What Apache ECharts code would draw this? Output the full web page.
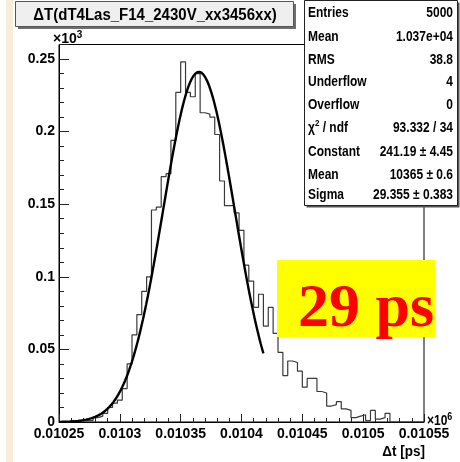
<!DOCTYPE html>
<html>
<head>
<meta charset="utf-8">
<script src="https://cdn.jsdelivr.net/npm/echarts@6/dist/echarts.min.js"></script>
<style>
  html, body { margin: 0; padding: 0; background: #ffffff; }
  #chart { width: 460px; height: 462px; }
</style>
</head>
<body>
<div id="chart"></div>
<script>
// Histogram of the time difference, 75 bins of 4 ps starting at 10250 ps
const binLow = 10250;
const binWidth = 4;
const counts = [
  0, 0, 1, 0, 1, 1, 1, 3, 4, 6,
  10, 13, 15, 23, 40, 60, 74, 90, 100, 146,
  148, 169, 171, 194, 227, 248, 227, 224, 240, 213,
  212, 210, 198, 166, 149, 149, 144, 132, 108, 97,
  79, 88, 66, 79, 61, 48, 32, 42, 41, 35,
  24, 30, 30, 21, 20, 11, 12, 14, 9, 8,
  3, 4, 5, 1, 8, 2, 3, 6, 0, 0,
  0, 0, 0, 0, 0
];

// Gaussian fit parameters and the range it was fitted over
const fitConstant = 241.19;
const fitMean = 10365;
const fitSigma = 29.355;
const fitRange = [10250, 10418];

// Axis ticks and their labels
const xTicks = [10250, 10300, 10350, 10400, 10450, 10500, 10550];
const xTickLabels = ['0.01025', '0.0103', '0.01035', '0.0104', '0.01045', '0.0105', '0.01055'];
const yTicks = [0, 50, 100, 150, 200, 250];
const yTickLabels = ['0', '0.05', '0.1', '0.15', '0.2', '0.25'];

// Texts
const titleText = 'ΔT(dT4Las_F14_2430V_xx3456xx)';
const xTitle = 'Δt [ps]';
const highlightText = '29 ps';
const statsRows = [
  ['Entries', '5000'],
  ['Mean', '1.037e+04'],
  ['RMS', '38.8'],
  ['Underflow', '4'],
  ['Overflow', '0'],
  ['χ{sup|2} / ndf', '93.332 / 34'],
  ['Constant', '241.19 ± 4.45'],
  ['Mean', '10365 ± 0.6'],
  ['Sigma', '29.355 ± 0.383']
];

const SANS = "'Liberation Sans', Arial, Helvetica, sans-serif";
const supStyle = size => ({ fontSize: size, fontWeight: 'bold', fontFamily: SANS, verticalAlign: 'top', padding: [0, 0, 7, 0] });

// Outline of the histogram: one point per bin edge, drawn as steps
const histPoints = counts.map((c, k) => [binLow + k * binWidth, c]);
histPoints.push([binLow + counts.length * binWidth, counts[counts.length - 1]]);

// Fitted Gaussian sampled over its fit range
const fitPoints = [];
const nSamples = 300;
for (let i = 0; i <= nSamples; i++) {
  const x = fitRange[0] + (fitRange[1] - fitRange[0]) * i / nSamples;
  const z = (x - fitMean) / fitSigma;
  fitPoints.push([x, fitConstant * Math.exp(-0.5 * z * z)]);
}

function labelFor(v, ticks, labels) {
  for (let i = 0; i < ticks.length; i++) {
    if (Math.abs(v - ticks[i]) < 1e-6) return labels[i];
  }
  return '';
}

// Text stretched vertically to mimic the tall, narrow lettering
function tallText(text, x, y, align, size, stretch, extra) {
  return Object.assign({
    type: 'text', z: 102, x: x, y: y, scaleY: stretch,
    style: Object.assign({
      text: text, x: 0, y: 0, textAlign: align, textVerticalAlign: 'middle',
      font: 'bold ' + size + 'px ' + SANS, fill: '#000'
    }, extra || {})
  });
}

const chart = echarts.init(document.getElementById('chart'), null, { renderer: 'canvas' });

const statsElements = [];
const rowY = [13, 37, 60, 82, 105, 128, 152, 175, 195];
statsRows.forEach((row, i) => {
  statsElements.push(tallText(row[0], 308, rowY[i], 'left', 12, 1.2, { rich: { sup: supStyle(8) } }));
  statsElements.push(tallText(row[1], 453, rowY[i], 'right', 12, 1.2));
});

chart.setOption({
  animation: false,
  backgroundColor: '#ffffff',
  grid: {
    left: 59, right: 36, top: 44.5, bottom: 40,
    show: true, borderColor: '#000', borderWidth: 1,
    containLabel: false, outerBoundsMode: 'none'
  },
  xAxis: {
    type: 'value', min: 10250, max: 10550, interval: 50,
    axisLine: { show: true, onZero: false, lineStyle: { color: '#000', width: 1 } },
    axisTick: { show: true, inside: true, length: 8, lineStyle: { color: '#222', width: 1 } },
    minorTick: { show: true, splitNumber: 5, length: 4, lineStyle: { color: '#222', width: 1 } },
    splitLine: { show: false },
    minorSplitLine: { show: false },
    axisLabel: {
      margin: 5, fontSize: 14, fontWeight: 'bold', fontFamily: SANS, color: '#000',
      showMinLabel: true, showMaxLabel: true,
      formatter: v => labelFor(v, xTicks, xTickLabels)
    }
  },
  yAxis: [
    {
      type: 'value', min: 0, max: 260, interval: 50,
      axisLine: { show: true, onZero: false, lineStyle: { color: '#000', width: 1 } },
      axisTick: { show: true, inside: true, length: 10, lineStyle: { color: '#222', width: 1 } },
      splitLine: { show: false },
      axisLabel: {
        margin: 4, fontSize: 14, fontWeight: 'bold', fontFamily: SANS, color: '#000',
        formatter: v => labelFor(v, yTicks, yTickLabels)
      }
    },
    {
      type: 'value', min: 0, max: 260, interval: 10, position: 'left',
      axisLine: { show: false },
      axisTick: { show: true, inside: true, length: 5, lineStyle: { color: '#222', width: 1 } },
      splitLine: { show: false },
      axisLabel: { show: false }
    }
  ],
  series: [
    {
      name: 'histogram', type: 'line', step: 'end', yAxisIndex: 0,
      data: histPoints, symbol: 'none', z: 3,
      lineStyle: { color: '#3a3a3a', width: 1.2 }
    },
    {
      name: 'gaus', type: 'line', yAxisIndex: 0,
      data: fitPoints, symbol: 'none', smooth: false, z: 4,
      lineStyle: { color: '#000', width: 2.4 }
    }
  ],
  graphic: [
    // pale strip along the left edge
    { type: 'rect', z: 1, shape: { x: 6, y: 0, width: 7, height: 462 }, style: { fill: '#f8edd8' } },
    // title box
    { type: 'rect', z: 100, shape: { x: 18, y: 4, width: 278, height: 25 }, style: { fill: '#6e6e6e' } },
    { type: 'rect', z: 101, shape: { x: 15.5, y: 1.5, width: 278, height: 25 }, style: { fill: '#efefef', stroke: '#555', lineWidth: 1 } },
    tallText(titleText, 155, 15, 'center', 15, 1.1),
    // y axis multiplier
    tallText('×10{sup|3}', 53, 39, 'left', 14, 1.1, { rich: { sup: supStyle(10) } }),
    // statistics box
    { type: 'rect', z: 100, shape: { x: 306.5, y: 2.5, width: 153, height: 205 }, style: { fill: '#555' } },
    { type: 'rect', z: 101, shape: { x: 304.5, y: 0.5, width: 153, height: 205 }, style: { fill: '#fff', stroke: '#222', lineWidth: 1 } },
    ...statsElements,
    // highlighted resolution
    { type: 'rect', z: 100, shape: { x: 277, y: 260, width: 158, height: 77 }, style: { fill: '#ffff00' } },
    {
      type: 'text', z: 101,
      style: { text: highlightText, x: 298, y: 310, textAlign: 'left', textVerticalAlign: 'middle', font: 'bold 62px "Liberation Serif", "Times New Roman", serif', fill: '#ff0000' }
    },
    // x axis multiplier and title
    tallText('×10{sup|6}', 427, 421, 'left', 12, 1.15, { rich: { sup: supStyle(9) } }),
    tallText(xTitle, 425, 452, 'right', 13.5, 1.15)
  ]
});
</script>
</body>
</html>
